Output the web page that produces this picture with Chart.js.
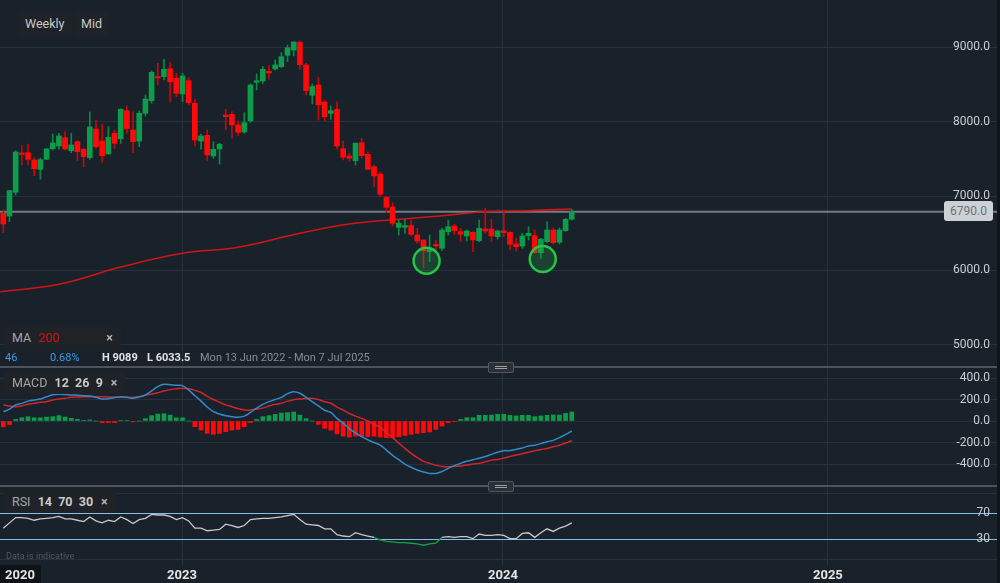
<!DOCTYPE html>
<html>
<head>
<meta charset="utf-8">
<script src="https://cdn.jsdelivr.net/npm/chart.js@4.4.1/dist/chart.umd.min.js"></script>
<style>
body { margin:0; background:#19212b; width:1000px; height:583px; overflow:hidden; position:relative; font-family: Roboto, "Liberation Sans", sans-serif; }
.panel { position:absolute; left:0; width:1000px; }
#p1 { top:0; height:366px; }
#p2 { top:368px; height:117px; }
#p3 { top:487px; height:96px; }
.sep { position:absolute; left:0; width:1000px; height:2px; background:#4d535a; }
.handle { position:absolute; left:488px; width:24px; height:9px; background:#2b3037; border:1px solid #50575f; border-radius:2px; }
.handle:before, .handle:after { content:""; position:absolute; left:6px; width:12px; height:1px; background:#9aa0a6; }
.handle:before { top:3px; } .handle:after { top:5px; }
.box { position:absolute; background:#1f2226; border-radius:2px; font-size:12.5px; color:#c9c9c9; line-height:22px; padding:0 8px; white-space:nowrap; }
.dim { color:#a2a5a9; }
.x { color:#b0b3b7; font-weight:bold; margin-left:8px; }
.info { position:absolute; top:351px; left:5px; font-size:11px; white-space:nowrap; }
.info span { position:absolute; top:0; }
.last { position:absolute; left:944px; top:201px; width:49px; height:20px; background:#cdd1d5; color:#6c727a; font-size:12px; line-height:20px; text-align:center; border-radius:3px; }
.note { position:absolute; left:6px; top:551px; font-size:9px; color:#4f5863; }
.edge { position:absolute; left:997px; top:0; width:3px; height:583px; background:#10151b; }
</style>
</head>
<body>
<div class="panel" id="p1"><canvas id="priceChart"></canvas></div>
<div class="panel" id="p2"><canvas id="macdChart"></canvas></div>
<div class="panel" id="p3"><canvas id="rsiChart"></canvas></div>
<div class="sep" style="top:366px"></div>
<div class="sep" style="top:485px"></div>
<div class="handle" style="top:362px"></div>
<div class="handle" style="top:481px"></div>
<div class="edge"></div>

<div class="box" style="left:17px;top:13px;">Weekly</div>
<div class="box" style="left:73px;top:13px;">Mid</div>
<div class="box" style="left:4px;top:327px;width:101px;"><span class="dim">MA</span> <span style="color:#c3141a;margin-left:4px">200</span><span class="x" style="position:absolute;right:8px">×</span></div>
<div class="info">
  <span style="left:0;color:#3d9be0">46</span>
  <span style="left:45px;color:#3d9be0">0.68%</span>
  <span style="left:97px;color:#e2e2e2;font-weight:bold">H 9089</span>
  <span style="left:142px;color:#e2e2e2;font-weight:bold">L 6033.5</span>
  <span style="left:195px;color:#868c94">Mon 13 Jun 2022 - Mon 7 Jul 2025</span>
</div>
<div class="box" style="left:4px;top:372px;"><span class="dim">MACD</span> <b style="margin-left:4px">12 &nbsp;26 &nbsp;9</b><span class="x">×</span></div>
<div class="box" style="left:4px;top:491px;"><span class="dim">RSI</span> <b style="margin-left:4px">14 &nbsp;70 &nbsp;30</b><span class="x">×</span></div>
<div class="note">Data is indicative</div>
<div class="last">6790.0</div>

<script>
// weekly candles, Jun 2022 -> Mar 2024
const opens = [6768,6732,7051,7580,7584,7486,7360,7495,7638,7674,7786,7611,7732,7630,7517,7903,7741,7567,7845,7772,
  8149,7890,7741,8114,8284,8607,8607,8715,8585,8374,8553,8249,7741,7818,7540,7634,8092,8100,7957,7863,
  8011,8531,8549,8680,8711,8742,8895,8966,9070,8765,8357,8495,8266,8114,8168,7638,7540,7476,7719,7562,
  7396,7297,6984,6853,6580,6580,6603,6476,6409,6252,6351,6297,6521,6597,6521,6463,6512,6400,6557,6557,
  6454,6534,6512,6355,6328,6467,6467,6238,6387,6543,6378,6534,6688];
const highs = [6813,7080,7611,7678,7700,7517,7509,7640,7836,7845,7867,7845,7745,7643,8132,8024,7966,7934,7890,8176,
  8213,8136,8145,8361,8684,8787,8841,8800,8653,8653,8594,8303,7836,7890,7732,7710,8168,8136,8010,8122,
  8510,8643,8742,8760,8832,8930,9034,9078,9089,8787,8509,8594,8293,8213,8270,7745,7576,7719,7778,7594,
  7418,7324,6992,6911,6678,6688,6678,6566,6409,6476,6409,6570,6678,6620,6566,6543,6521,6678,6836,6688,
  6543,6789,6521,6432,6499,6588,6543,6432,6655,6570,6570,6700,6822];
const lows = [6507,6655,7015,7418,7420,7275,7226,7490,7620,7630,7620,7584,7477,7396,7495,7643,7455,7567,7643,7710,
  7845,7584,7665,8078,8249,8495,8563,8266,8338,8270,8226,7674,7630,7477,7509,7432,7890,7778,7818,7845,
  7990,8428,8518,8572,8697,8728,8809,8886,8707,8361,8240,8024,8015,8033,7630,7486,7463,7418,7509,7351,
  7126,6996,6776,6597,6476,6499,6463,6365,6034,6117,6274,6270,6476,6480,6387,6395,6252,6387,6499,6387,
  6420,6454,6274,6261,6297,6409,6230,6162,6373,6355,6355,6525,6678];
const closes = [6624,7073,7593,7560,7495,7369,7490,7634,7715,7809,7634,7688,7598,7530,7930,7665,7544,7791,7710,8168,
  7907,7732,8114,8307,8666,8589,8707,8540,8384,8616,8257,7755,7809,7553,7630,7697,8069,7957,7858,7988,
  8495,8553,8707,8657,8765,8876,8997,9074,8768,8419,8473,8230,8069,8149,7674,7522,7509,7711,7544,7360,
  7271,7024,6849,6634,6634,6603,6486,6395,6261,6297,6328,6543,6588,6534,6486,6530,6409,6566,6530,6463,
  6530,6508,6351,6319,6463,6499,6238,6418,6543,6373,6543,6688,6790];

// 200 week moving average, read at a few candles
const maIdx = [-0.5, 9, 19, 29, 38, 48, 56, 64, 71, 78, 85, 92];
const maVal = [5712, 5813, 6045, 6230, 6311, 6499, 6624, 6688, 6735, 6790, 6803, 6826];

const lastPrice = 6790;
const priceTicks = [5000, 6000, 7000, 8000, 9000];

// circled lows
const circleIdx = [68.5, 87.3];
const circleVal = [6130, 6153];

// MACD 12 26 9
const macdLine = [87,110,150,164,185,195,205,225,245,248,
  246,242,240,236,233,220,205,208,218,226,
  220,211,225,242,280,320,341,338,332,329,
  290,235,185,130,87,65,48,40,34,45,
  80,120,155,180,200,220,255,272,258,220,
  180,140,100,80,25,-20,-70,-110,-146,-175,
  -200,-225,-270,-320,-360,-400,-430,-455,-475,-487,
  -487,-470,-440,-415,-394,-375,-360,-347,-330,-310,
  -290,-276,-275,-263,-250,-233,-225,-210,-192,-180,
  -155,-125,-93];
const signalLine = [149,140,133,140,155,165,175,180,195,205,
  212,220,223,225,226,226,225,224,222,220,
  220,220,225,240,250,262,280,292,300,304,
  300,285,265,230,200,175,150,133,115,102,
  103,112,120,140,155,165,185,198,205,210,
  211,200,180,165,130,102,70,45,25,0,
  -30,-60,-105,-155,-205,-255,-301,-340,-375,-394,
  -410,-423,-425,-422,-419,-410,-400,-394,-380,-365,
  -357,-345,-330,-316,-305,-290,-276,-265,-255,-239,
  -225,-205,-183];
const histogram = [-55,-33,15,30,40,30,30,37,40,50,
  37,25,15,3,10,0,-15,-15,-15,5,
  5,-8,0,22,50,65,68,55,30,30,
  0,-53,-84,-115,-124,-115,-99,-84,-78,-53,
  -15,15,40,50,62,74,78,84,55,22,
  0,-31,-68,-85,-120,-140,-150,-140,-140,-146,
  -140,-149,-155,-155,-146,-134,-124,-115,-109,-102,
  -78,-47,-16,-3,15,31,31,53,53,56,
  62,62,53,47,53,53,40,47,53,56,
  56,71,84];
const macdTicks = [-400, -200, 0, 200, 400];

// RSI 14
const rsi = [47,55,63,63,62,59,61,62,63,65,
  61,61,59,57,64,58,55,59,57,64,
  60,54,60,62,68,67,67,65,60,63,
  58,47,47,43,44,45,53,51,48,51,
  60,61,62,62,63,64,66,68,60,53,
  52,51,46,46,37,35,34,40,37,35,
  33,29,27,26,25,25,24,23,21,23,
  24,33,34,33,34,34,31,38,36,36,
  37,36,31,31,39,40,33,40,46,42,
  47,50,55];
const rsiTicks = [0, 30, 70, 100];

const yearPos = [2.7, 28.92, 80.86, 133.45];
const yearText = ['2020', '2023', '2024', '2025'];

const xMin = -0.534, xMax = 161.3;
const gridColor = '#28313b';
const upColor = '#0c9c4a', downColor = '#ff0a0a';
const upWick = '#0a8a40', downWick = '#c80808';

Chart.defaults.font.family = 'Roboto, "Liberation Sans", sans-serif';
Chart.defaults.animation = false;

const isUp = opens.map((o, i) => closes[i] >= o);

function xScale(showLabels) {
    return {
        type: 'linear',
        min: xMin,
        max: xMax,
        offset: false,
        afterBuildTicks: s => { s.ticks = yearPos.map(v => ({ value: v })); },
        afterFit: s => { s.height = showLabels ? 18 : 0; },
        grid: {
            offset: false,
            drawTicks: false,
            color: c => (c.tick && c.tick.value === yearPos[0]) ? 'rgba(0,0,0,0)' : gridColor
        },
        border: { display: false },
        ticks: {
            display: showLabels,
            padding: 3,
            color: '#e4e4e4',
            font: { size: 13, weight: 'bold' },
            maxRotation: 0,
            autoSkip: false,
            callback: (v, i) => yearText[i],
            showLabelBackdrop: true,
            backdropColor: c => c.index === 0 ? '#0f1318' : 'rgba(0,0,0,0)',
            backdropPadding: { top: 3, bottom: 3, left: 6, right: 6 }
        }
    };
}

function yScale(min, max, ticks, fmt, gridFn) {
    return {
        position: 'right',
        min: min,
        max: max,
        afterBuildTicks: s => { s.ticks = ticks.map(v => ({ value: v })); },
        afterFit: s => { s.width = 0; },
        grid: { drawTicks: false, color: gridFn || gridColor },
        border: { display: false },
        ticks: {
            mirror: true,
            padding: -10,
            color: '#c9cdd2',
            font: { size: 12 },
            callback: fmt
        }
    };
}

const baseOptions = {
    responsive: true,
    maintainAspectRatio: false,
    layout: { padding: 0, autoPadding: false },
    plugins: { legend: { display: false }, tooltip: { enabled: false } }
};

// price panel
new Chart(document.getElementById('priceChart'), {
    type: 'bar',
    data: {
        datasets: [
            {
                type: 'bubble',
                data: circleIdx.map((x, i) => ({ x: x, y: circleVal[i], r: 13 })),
                backgroundColor: 'rgba(40,170,70,0.25)',
                borderColor: '#27c445',
                borderWidth: 2.5,
                order: 1
            },
            {
                data: opens.map((o, i) => ({ x: i, y: [o, closes[i]] })),
                backgroundColor: isUp.map(u => u ? upColor : downColor),
                barThickness: 5,
                minBarLength: 1.5,
                grouped: false,
                order: 2
            },
            {
                data: lows.map((l, i) => ({ x: i, y: [l, highs[i]] })),
                backgroundColor: isUp.map(u => u ? upWick : downWick),
                barThickness: 1,
                grouped: false,
                order: 3
            },
            {
                type: 'line',
                data: maIdx.map((x, i) => ({ x: x, y: maVal[i] })),
                borderColor: '#d41414',
                borderWidth: 1.6,
                pointRadius: 0,
                tension: 0.4,
                order: 4
            },
            {
                type: 'line',
                data: [{ x: xMin, y: lastPrice }, { x: xMax, y: lastPrice }],
                borderColor: '#747b83',
                borderWidth: 2,
                pointRadius: 0,
                order: 5
            }
        ]
    },
    options: {
        ...baseOptions,
        scales: {
            x: xScale(false),
            y: yScale(4713, 9639, priceTicks, v => v.toFixed(1))
        }
    }
});

// MACD panel
new Chart(document.getElementById('macdChart'), {
    type: 'bar',
    data: {
        datasets: [
            {
                type: 'line',
                data: macdLine.map((v, i) => ({ x: i, y: v })),
                borderColor: '#3589c9',
                borderWidth: 1.5,
                pointRadius: 0,
                tension: 0.3,
                order: 1
            },
            {
                type: 'line',
                data: signalLine.map((v, i) => ({ x: i, y: v })),
                borderColor: '#d1242b',
                borderWidth: 1.5,
                pointRadius: 0,
                tension: 0.3,
                order: 2
            },
            {
                data: histogram.map((v, i) => ({ x: i, y: v })),
                backgroundColor: histogram.map(v => v >= 0 ? upColor : downColor),
                barThickness: 4,
                grouped: false,
                order: 3
            }
        ]
    },
    options: {
        ...baseOptions,
        scales: {
            x: xScale(false),
            y: yScale(-595, 493, macdTicks, v => v.toFixed(1))
        }
    }
});

// RSI panel
new Chart(document.getElementById('rsiChart'), {
    type: 'line',
    data: {
        datasets: [{
            data: rsi.map((v, i) => ({ x: i, y: v })),
            borderColor: '#c9c9c9',
            borderWidth: 1.3,
            pointRadius: 0,
            segment: {
                borderColor: c => (c.p0.parsed.y < 30 || c.p1.parsed.y < 30) ? '#12a347' : '#c9c9c9'
            }
        }]
    },
    options: {
        ...baseOptions,
        scales: {
            x: xScale(true),
            y: yScale(-9.1, 109.6, rsiTicks,
                v => (v === 30 || v === 70) ? String(v) : '',
                c => (c.tick && (c.tick.value === 30 || c.tick.value === 70)) ? '#86bfe8' : gridColor)
        }
    }
});
</script>
</body>
</html>
